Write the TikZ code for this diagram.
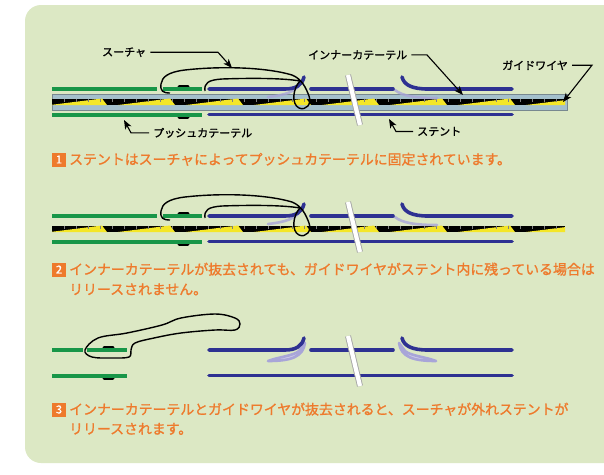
\documentclass[tikz,border=0pt]{standalone}
\usepackage{fontspec}
\setmainfont{Noto Sans CJK JP}
\newfontfamily\jpmedium{Noto Sans CJK JP}[FakeBold=1.2]
\usepackage{tikz}
\usetikzlibrary{arrows.meta}

\definecolor{panelbg}{RGB}{220,232,196}
\definecolor{pushgreen}{RGB}{24,150,72}
\definecolor{stentblue}{RGB}{46,49,146}
\definecolor{flaplav}{RGB}{168,165,216}
\definecolor{wireyellow}{RGB}{244,230,40}
\definecolor{innercath}{RGB}{164,192,205}
\definecolor{cathedge}{RGB}{120,136,144}
\definecolor{capcolor}{RGB}{238,122,44}

\begin{document}
\begin{tikzpicture}[x=1pt, y=-1pt, >={Stealth[length=9pt,width=7pt,inset=2.5pt]},
    pusher/.style={draw=pushgreen, line width=4pt},
    stent/.style={draw=stentblue, line width=3.6pt, line cap=round},
    flap/.style={draw=flaplav, line width=2.6pt, line cap=round, line join=round},
    suture/.style={draw=black, line width=1.4pt},
    leader/.style={draw=black, line width=1.1pt, ->},
    lbl/.style={font=\jpmedium\fontsize{11}{13}\selectfont, inner xsep=4pt, inner ysep=0pt},
    caption/.style={font=\jpmedium\fontsize{13.9}{19}\selectfont, text=capcolor, inner sep=0pt},
    numbox/.style={fill=capcolor, text=white, font=\jpmedium\fontsize{11}{11}\selectfont,
        minimum width=14pt, minimum height=14pt, inner sep=0pt}]

    % background panel
    \useasboundingbox (0,0) rectangle (604,474);
    \fill[white] (0,0) rectangle (604,474);
    \fill[panelbg, rounded corners=16pt] (25,5) rectangle (640,463);

    % inner catheter (step 1)
    \filldraw[fill=innercath, draw=cathedge, line width=0.8pt] (52,94) rectangle (567,110);

    % guide wire (steps 1 and 2)
    \foreach \dy in {0,127} {
        \begin{scope}[shift={(0,\dy)}]
            \fill[black] (52,98.5) rectangle (565,105);
            \begin{scope}
                \clip (52,98.5) rectangle (565,105);
                \foreach \x in {50,118,...,565}
                    \fill[wireyellow] (\x,105) -- (\x+52,98.5) -- (\x+57,105) -- cycle;
                \foreach \x in {64,76,...,565}
                    \draw[gray, line width=0.5pt] (\x,98.5) -- (\x,101.5);
            \end{scope}
        \end{scope}
    }

    % push catheter with its markers (steps 1 and 2)
    \foreach \dy in {0,127} {
        \begin{scope}[shift={(0,\dy)}]
            \draw[black, line width=3pt, line cap=round] (179,86) -- (188,86) (179,117) -- (188,117);
            \draw[pusher] (52,88.5) -- (157,88.5) (163,88.5) -- (202,88.5) (52,115) -- (202,115);
        \end{scope}
    }

    % push catheter (step 3)
    \draw[black, line width=3pt, line cap=round] (104,347) -- (113,347) (104,378) -- (113,378);
    \draw[pusher] (52,350) -- (83,350) (87,350) -- (127,350) (52,375.5) -- (127,375.5);

    % folded flaps
    \foreach \dy in {0,127} {
        \draw[flap, opacity=0.8, shift={(0,\dy)}] (302,81) .. controls (297,92) and (285,95) .. (268,97);
        \draw[flap, opacity=0.8, shift={(0,\dy)}] (395,90) .. controls (402,96) and (416,98) .. (437,98);
    }
    \filldraw[flap, fill=flaplav!55] (305,343) .. controls (303,357) and (291,361) .. (268,361)
        .. controls (278,357) and (293,356) .. (299,351) -- cycle;
    \filldraw[flap, fill=flaplav!55] (399,343) .. controls (401,357) and (413,361) .. (436,361)
        .. controls (426,357) and (411,356) .. (405,351) -- cycle;

    % stent
    \foreach \dy in {0,127,261} {
        \begin{scope}[shift={(0,\dy)}]
            \draw[stent] (209,89) -- (285,89) .. controls (296,89) and (302,85) .. (304,77);
            \draw[stent] (311,89) -- (393,89);
            \draw[stent] (402,77) .. controls (404,85) and (412,89) .. (428,89) -- (512,89);
            \draw[stent] (209,114.5) -- (512,114.5);
        \end{scope}
    }

    % suture (steps 1 and 2)
    \foreach \dy in {0,127}
        \draw[suture, shift={(0,\dy)}] (205,91) .. controls (204,83) and (208,80) .. (222,79)
            .. controls (250,78) and (283,78) .. (300,81)
            .. controls (293,88) and (291,104) .. (299,108)
            .. controls (306,111) and (312,104) .. (309,96)
            .. controls (306,88) and (302,79) .. (292,75)
            .. controls (265,67) and (220,66) .. (185,70)
            .. controls (168,72) and (162,77) .. (161,84)
            .. controls (160,91) and (163,93) .. (170,93);

    % suture (step 3)
    \draw[suture] plot[smooth cycle, tension=0.6] coordinates {(85,350) (98,338) (127,333)
        (162,325) (181,318) (215,314) (235,318) (240,324) (235,330) (215,330) (181,333)
        (154,338) (135,343) (131,350) (129,357) (112,358) (92,357)};

    % break marks
    \foreach \dy in {0,127,261} {
        \draw[gray!70, line width=6pt, shift={(0,\dy)}] (348,75) -- (360,125);
        \draw[white, line width=4.2pt, shift={(0,\dy)}] (348,75) -- (360,125);
    }

    % labels
    \node[lbl, anchor=base west] (suture-lbl) at (98,56) {スーチャ};
    \coordinate (suture-bend) at (218,52);
    \coordinate (suture-tip) at (232,68);
    \draw[leader] (suture-lbl.east) -- (suture-lbl.east -| suture-bend) -- (suture-tip);

    \node[lbl, anchor=base west] (inner-lbl) at (304,59) {インナーカテーテル};
    \coordinate (inner-bend) at (427,55);
    \coordinate (inner-tip) at (463,95);
    \draw[leader] (inner-lbl.east) -- (inner-lbl.east -| inner-bend) -- (inner-tip);

    \node[lbl, anchor=base west] (wire-lbl) at (498,69.5) {ガイドワイヤ};
    \coordinate (wire-bend) at (592,65);
    \coordinate (wire-tip) at (563,102);
    \draw[leader] (wire-lbl.east) -- (wire-lbl.east -| wire-bend) -- (wire-tip);

    \node[lbl, anchor=base west] (stent-lbl) at (413,135.5) {ステント};
    \coordinate (stent-bend) at (396,131);
    \coordinate (stent-tip) at (389,119);
    \draw[leader] (stent-lbl.west) -- (stent-lbl.west -| stent-bend) -- (stent-tip);

    \node[lbl, anchor=base west] (push-lbl) at (149,137) {プッシュカテーテル};
    \coordinate (push-bend) at (131,133);
    \coordinate (push-tip) at (124,120);
    \draw[leader] (push-lbl.west) -- (push-lbl.west -| push-bend) -- (push-tip);

    % captions
    \node[numbox] (num1) at (59,159.5) {1};
    \node[caption, anchor=base west] (cap1) at (69,164.5) {ステントはスーチャによってプッシュカテーテルに固定されています。};

    \node[numbox] (num2) at (59,269.5) {2};
    \node[caption, anchor=base west] (cap2) at (69,274.5) {インナーカテーテルが抜去されても、ガイドワイヤがステント内に残っている場合は};
    \node[caption, anchor=base west] (cap2b) at (69,294.5) {リリースされません。};

    \node[numbox] (num3) at (59,409.5) {3};
    \node[caption, anchor=base west] (cap3) at (69,414.5) {インナーカテーテルとガイドワイヤが抜去されると、スーチャが外れステントが};
    \node[caption, anchor=base west] (cap3b) at (69,434) {リリースされます。};

\end{tikzpicture}
\end{document}
